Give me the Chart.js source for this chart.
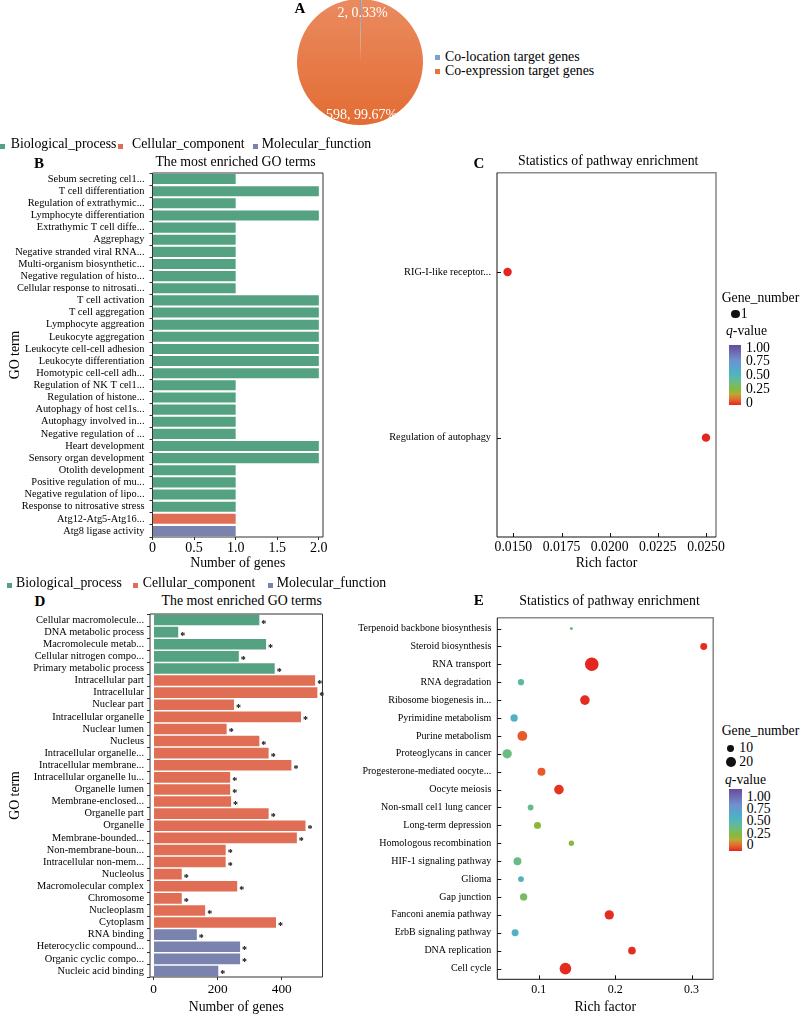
<!DOCTYPE html>
<html><head><meta charset="utf-8">
<script src="https://cdn.jsdelivr.net/npm/chart.js@4.4.1/dist/chart.umd.min.js"></script>
<style>
html,body{margin:0;padding:0;background:#fff}
body{width:800px;height:1016px;position:relative;overflow:hidden;font-family:'Liberation Serif','Times New Roman',serif}
.c{position:absolute}
.t{position:absolute;white-space:nowrap;line-height:1;color:#000;font-family:'Liberation Serif','Times New Roman',serif}
.sq{position:absolute}
</style></head><body>
<div class="c" style="left:297px;top:-1.5px;width:126px;height:126px"><canvas id="cA"></canvas></div>
<div class="c" style="left:0;top:170px;width:330px;height:406px"><canvas id="cB"></canvas></div>
<div class="c" style="left:380px;top:168px;width:360px;height:408px"><canvas id="cC"></canvas></div>
<div class="c" style="left:0;top:610px;width:330px;height:406px"><canvas id="cD"></canvas></div>
<div class="c" style="left:330px;top:611px;width:390px;height:405px"><canvas id="cE"></canvas></div>
<script>
// ================= DATA =================
const pieLabels = ['Co-location target genes', 'Co-expression target genes'];
const pieValues = [2, 598];

const goClasses = ['Biological_process', 'Cellular_component', 'Molecular_function'];

const bTerms = ['Sebum secreting cel1...','T cell differentiation','Regulation of extrathymic...','Lymphocyte differentiation','Extrathymic T cell diffe...','Aggrephagy','Negative stranded viral RNA...','Multi-organism biosynthetic...','Negative regulation of histo...','Cellular response to nitrosati...','T cell activation','T cell aggregation','Lymphocyte aggreation','Leukocyte aggregation','Leukocyte cell-cell adhesion','Leukocyte differentiation','Homotypic cell-cell adh...','Regulation of NK T cel1...','Regulation of histone...','Autophagy of host cel1s...','Autophagy involved in...','Negative regulation of ...','Heart development','Sensory organ development','Otolith development','Positive regulation of mu...','Negative regulation of lipo...','Response to nitrosative stress','Atg12-Atg5-Atg16...','Atg8 ligase activity'];
const bCounts = [1,2,1,2,1,1,1,1,1,1,2,2,2,2,2,2,2,1,1,1,1,1,2,2,1,1,1,1,1,1];
const bClass  = [0,0,0,0,0,0,0,0,0,0,0,0,0,0,0,0,0,0,0,0,0,0,0,0,0,0,0,0,1,2];
const bXTicks = [0, 0.5, 1, 1.5, 2];

const dTerms = ['Cellular macromolecule...','DNA metabolic process','Macromolecule metab...','Cellular nitrogen compo...','Primary metabolic process','Intracellular part','Intracellular','Nuclear part','Intracellular organelle','Nuclear lumen','Nucleus','Intracellular organelle...','Intracellular membrane...','Intracellular organelle lu...','Organelle lumen','Membrane-enclosed...','Organelle part','Organelle','Membrane-bounded...','Non-membrane-boun...','Intracellular non-mem...','Nucleolus','Macromolecular complex','Chromosome','Nucleoplasm','Cytoplasm','RNA binding','Heterocyclic compound...','Organic cyclic compo...','Nucleic acid binding'];
const dCounts = [330,77,351,266,378,504,511,251,460,228,330,359,430,239,239,242,359,474,447,225,225,88,261,88,161,382,135,270,270,202];
const dClass  = [0,0,0,0,0,1,1,1,1,1,1,1,1,1,1,1,1,1,1,1,1,1,1,1,1,1,2,2,2,2];
const dXTicks = [0, 200, 400];

const cPathways = ['RIG-I-like receptor...', 'Regulation of autophagy'];
const cRich  = [0.0147, 0.0250];
const cGenes = [1, 1];
const cQ     = [0.0, 0.0];
const cXTicks = [0.015, 0.0175, 0.02, 0.0225, 0.025];

const ePathways = ['Terpenoid backbone biosynthesis','Steroid biosynthesis','RNA transport','RNA degradation','Ribosome biogenesis in...','Pyrimidine metabolism','Purine metabolism','Proteoglycans in cancer','Progesterone-mediated oocyte...','Oocyte meiosis','Non-small cel1 lung cancer','Long-term depression','Homologous recombination','HIF-1 signaling pathway','Glioma','Gap junction','Fanconi anemia pathway','ErbB signaling pathway','DNA replication','Cell cycle'];
const eRich  = [0.1427,0.316,0.1694,0.0767,0.1604,0.0677,0.0785,0.0586,0.1035,0.1264,0.0893,0.0983,0.1427,0.0721,0.0767,0.0802,0.1923,0.0690,0.222,0.1349];
const eGenes = [2,10,38,8,19,11,20,18,13,19,7,10,6,13,7,11,18,10,12,28];
const eQ     = [0.36,0.01,0.0,0.44,0.01,0.53,0.07,0.38,0.07,0.02,0.40,0.25,0.27,0.38,0.53,0.32,0.01,0.53,0.01,0.01];
const eXTicks = [0.1, 0.2, 0.3];
const eSizeLegend = [10, 20];
const qLegendTicks = ['1.00', '0.75', '0.50', '0.25', '0'];

// ================= STYLE =================
const FONT = "'Liberation Serif','Times New Roman',serif";
Chart.defaults.font.family = FONT;
Chart.defaults.color = '#000';
Chart.defaults.animation = false;
const classColors = ['#55A283', '#E06E54', '#7A82AE'];
const qStops = [[0,[227,38,30]],[0.08,[232,96,44]],[0.18,[185,169,58]],[0.25,[138,185,53]],[0.35,[112,188,118]],[0.45,[91,184,166]],[0.55,[76,177,198]],[0.75,[112,144,208]],[1,[106,74,152]]];
function qColor(q){
  for(let i=1;i<qStops.length;i++){
    if(q<=qStops[i][0]){
      const [a,ca]=qStops[i-1],[b,cb]=qStops[i]; const t=(q-a)/(b-a);
      return 'rgb('+ca.map((v,k)=>Math.round(v+(cb[k]-v)*t)).join(',')+')';
    }
  }
  return 'rgb(106,74,152)';
}
const sizeC = n => 4.2*Math.sqrt(n);
const sizeE = n => 1.1*Math.sqrt(n);
function noPad(s){ s.paddingTop=0; s.paddingBottom=0; s.paddingLeft=0; s.paddingRight=0; }

// ================= HELPERS =================
function T(x,y,s,o={}){
  const d=document.createElement('div'); d.className='t';
  if(o.html) d.innerHTML=s; else d.textContent=s;
  d.style.left=x+'px'; d.style.top=y+'px';
  d.style.fontSize=(o.size||13.8)+'px';
  if(o.bold) d.style.fontWeight='bold';
  if(o.color) d.style.color=o.color;
  const tx=o.align==='center'?'-50%':o.align==='right'?'-100%':'0';
  d.style.transform='translate('+tx+',-50%)';
  document.body.appendChild(d);
}
function SQ(x,y,s,col,round){
  const d=document.createElement('div'); d.className='sq';
  d.style.left=(x)+'px'; d.style.top=(y-s/2)+'px';
  d.style.width=s+'px'; d.style.height=s+'px'; d.style.background=col;
  if(round){d.style.borderRadius='50%'; d.style.left=(x-s/2)+'px';}
  document.body.appendChild(d);
}
function colorbar(x,y,w,h){
  const d=document.createElement('div'); d.className='sq';
  d.style.left=x+'px'; d.style.top=y+'px'; d.style.width=w+'px'; d.style.height=h+'px';
  d.style.background='linear-gradient(to top,'+qStops.map(s=>'rgb('+s[1].join(',')+') '+(s[0]*100)+'%').join(',')+')';
  document.body.appendChild(d);
}

const framePlugin = {
  id:'frame',
  afterDraw(chart, args, o){
    const {ctx, chartArea:a} = chart;
    ctx.save();
    if(o.inward){
      ctx.strokeStyle='#111'; ctx.lineWidth=1;
      const xs=chart.scales.x, ys=chart.scales.y;
      xs.ticks.forEach(t=>{const p=Math.round(xs.getPixelForValue(t.value))+0.5; ctx.beginPath(); ctx.moveTo(p,a.bottom); ctx.lineTo(p,a.bottom-4); ctx.stroke();});
      ys.ticks.forEach(t=>{const p=Math.round(ys.getPixelForValue(t.value))+0.5; ctx.beginPath(); ctx.moveTo(a.left,p); ctx.lineTo(a.left+4,p); ctx.stroke();});
    }
    ctx.strokeStyle=o.outer; ctx.lineWidth=o.outerWidth;
    ctx.beginPath(); ctx.moveTo(a.left,a.top); ctx.lineTo(a.right,a.top); ctx.lineTo(a.right,a.bottom); ctx.stroke();
    ctx.strokeStyle=o.axis; ctx.lineWidth=o.axisWidth;
    ctx.beginPath(); ctx.moveTo(a.left,a.top); ctx.lineTo(a.left,a.bottom); ctx.lineTo(a.right,a.bottom); ctx.stroke();
    ctx.restore();
  }
};
const starPlugin = {
  id:'stars',
  afterDatasetsDraw(chart){
    const {ctx}=chart; const meta=chart.getDatasetMeta(0);
    ctx.save(); ctx.fillStyle='#000'; ctx.font="bold 10px "+FONT; ctx.textAlign='left'; ctx.textBaseline='alphabetic';
    meta.data.forEach(b=>ctx.fillText('*', b.x+2, b.y+6.5));
    ctx.restore();
  }
};

// ================= PANEL A (pie) =================
function pieGrad(chart){
  const a=chart.chartArea; if(!a) return '#E67A45';
  const g=chart.ctx.createLinearGradient(0,a.top,0,a.bottom);
  g.addColorStop(0,'#EA8B5F'); g.addColorStop(1,'#E36C33'); return g;
}
new Chart(document.getElementById('cA'),{
  type:'pie',
  data:{labels:pieLabels,datasets:[{data:pieValues,backgroundColor:c=>c.dataIndex===0?'#7EA1CC':pieGrad(c.chart),borderWidth:0,hoverOffset:0,offset:0}]},
  options:{responsive:true,maintainAspectRatio:false,events:[],layout:{padding:0},plugins:{legend:{display:false},tooltip:{enabled:false}}}
});
const pieTotal=pieValues.reduce((a,b)=>a+b,0);
const pieText=pieValues.map(v=>v+', '+(v/pieTotal*100).toFixed(2)+'%');
T(300,8.3,'A',{bold:true,size:15,align:'center'});
T(362.5,13,pieText[0],{color:'#fff',size:14,align:'center'});
T(361.5,114.5,pieText[1],{color:'#fff',size:14,align:'center'});
SQ(434.5,57.5,5,'#7EA1CC'); T(445,56.8,pieLabels[0]);
SQ(434.5,71.5,5,'#E4743D'); T(445,71,pieLabels[1]);

// ================= PANEL B / D (GO bars) =================
function goBar(id, terms, counts, cls, xmin, xmax, xticks, fmt, o){
  return new Chart(document.getElementById(id),{
    type:'bar',
    data:{labels:terms,datasets:[{data:counts,backgroundColor:cls.map(c=>classColors[c]),borderWidth:0,categoryPercentage:o.cat,barPercentage:1}]},
    options:{indexAxis:'y',responsive:true,maintainAspectRatio:false,events:[],
      layout:{padding:{top:o.padTop,right:o.padRight,left:0,bottom:0}},
      plugins:{legend:{display:false},tooltip:{enabled:false},frame:{outer:'#333',outerWidth:1,axis:'#333',axisWidth:1}},
      scales:{
        x:{type:'linear',min:xmin,max:xmax,
          afterBuildTicks:s=>{s.ticks=xticks.map(v=>({value:v}));},
          ticks:{font:{size:o.xFont,lineHeight:1},padding:o.xPad,callback:fmt,autoSkip:false,maxRotation:0},
          grid:{drawOnChartArea:false,drawTicks:true,tickLength:3,color:'#333'},border:{display:false},
          title:{display:true,text:'Number of genes',font:{size:13.8},padding:{top:0,bottom:o.titlePadB}},
          afterFit:s=>{s.height=o.xH; noPad(s);}},
        y:{type:'category',
          ticks:{font:{size:10.4,lineHeight:1},padding:o.yPad,autoSkip:false},
          grid:{drawOnChartArea:false,drawTicks:true,tickLength:3,color:'#333'},border:{display:false},
          title:{display:true,text:'GO term',font:{size:13.8},padding:{top:7,bottom:0}},
          afterFit:s=>{s.width=o.yW; noPad(s);}}
      }},
    plugins:[framePlugin].concat(o.stars?[starPlugin]:[])
  });
}
goBar('cB',bTerms,bCounts,bClass,0,2.05,bXTicks,v=>v===0?'0':v.toFixed(1),
  {cat:0.83,padTop:3,padRight:7,xFont:14,xPad:1,xH:39,yW:152.5,yPad:5,titlePadB:4});
T(39,163,'B',{bold:true,size:15,align:'center'});
T(235.5,161.7,'The most enriched GO terms',{align:'center'});
SQ(0,146.5,5,classColors[0]); T(10.7,144,goClasses[0]);
SQ(117.7,146.5,5,classColors[1]); T(132,144,goClasses[1]);
SQ(253,146.5,5,classColors[2]); T(261.7,144,goClasses[2]);

goBar('cD',dTerms,dCounts,dClass,-11,527,dXTicks,v=>String(v),
  {cat:0.88,padTop:4,padRight:7.5,xFont:13.3,xPad:3,xH:39,yW:150,yPad:3,titlePadB:0,stars:true});
T(40,600.7,'D',{bold:true,size:15,align:'center'});
T(241.7,600.8,'The most enriched GO terms',{align:'center'});
SQ(6.7,585.8,5,classColors[0]); T(16,583,goClasses[0]);
SQ(132.7,585.8,5,classColors[1]); T(142.7,583,goClasses[1]);
SQ(268.3,585.8,5,classColors[2]); T(276.7,583,goClasses[2]);

// ================= PANEL C / E (dot plots) =================
function dotPlot(id, names, rich, genes, q, sizeFn, xmin, xmax, xticks, fmt, o){
  return new Chart(document.getElementById(id),{
    type:'scatter',
    data:{datasets:[{data:names.map((n,i)=>({x:rich[i],y:i+1})),pointRadius:genes.map(sizeFn),pointHoverRadius:genes.map(sizeFn),
      pointBackgroundColor:q.map(qColor),pointBorderWidth:0,clip:false}]},
    options:{responsive:true,maintainAspectRatio:false,events:[],
      layout:{padding:{top:o.padTop,right:o.padRight,left:0,bottom:0}},
      plugins:{legend:{display:false},tooltip:{enabled:false},frame:{inward:true,outer:'#8c8c8c',outerWidth:1.6,axis:'#111',axisWidth:1}},
      scales:{
        x:{type:'linear',min:xmin,max:xmax,
          afterBuildTicks:s=>{s.ticks=xticks.map(v=>({value:v}));},
          ticks:{font:{size:o.xFont,lineHeight:1},padding:o.xPad,callback:fmt,autoSkip:false,maxRotation:0},
          grid:{display:false,drawTicks:false},border:{display:false},
          title:{display:true,text:'Rich factor',font:{size:13.8},padding:{top:0,bottom:o.titlePadB}},
          afterFit:s=>{s.height=o.xH; noPad(s);}},
        y:{type:'linear',reverse:true,min:0.4,max:names.length+0.6,
          afterBuildTicks:s=>{s.ticks=names.map((n,i)=>({value:i+1}));},
          ticks:{font:{size:o.yFont,lineHeight:1},padding:6,autoSkip:false,callback:v=>names[Math.round(v)-1]},
          grid:{display:false,drawTicks:false},border:{display:false},
          afterFit:s=>{s.width=o.yW; noPad(s);}}
      }},
    plugins:[framePlugin]
  });
}
dotPlot('cC',cPathways,cRich,cGenes,cQ,sizeC,0.01415,0.02552,cXTicks,v=>v.toFixed(4),
  {padTop:4.7,padRight:24,xFont:13.7,xPad:4,xH:39,yW:117,yFont:10.3,titlePadB:4});
T(479,162.5,'C',{bold:true,size:15,align:'center'});
T(608.2,161.3,'Statistics of pathway enrichment',{align:'center'});
T(721.7,298,'Gene_number',{size:13.7});
SQ(735.5,314.3,sizeC(cGenes[0])*2,'#111',true); T(740.7,314.3,String(cGenes[0]),{size:13.7});
T(726,330.5,'<i>q</i>-value',{html:true,size:13.7});
colorbar(728.5,344.5,12.5,60.5);
[347.5,361.3,375.2,389.1,403].forEach((y,i)=>T(746,y,qLegendTicks[i],{size:13.7}));

dotPlot('cE',ePathways,eRich,eGenes,eQ,sizeE,0.0457,0.3284,eXTicks,v=>v.toFixed(1),
  {padTop:4,padRight:4,xFont:12,xPad:4.7,xH:36.7,yW:167.3,yFont:10,titlePadB:0});
T(478.7,600.3,'E',{bold:true,size:15,align:'center'});
T(609.5,600.5,'Statistics of pathway enrichment',{align:'center'});
T(721.7,730.5,'Gene_number',{size:13.7});
SQ(730.8,748.2,sizeE(eSizeLegend[0])*2,'#111',true); T(739.3,748.2,String(eSizeLegend[0]),{size:13.7});
SQ(730.8,761.8,sizeE(eSizeLegend[1])*2,'#111',true); T(739.3,761.8,String(eSizeLegend[1]),{size:13.7});
T(725,780,'<i>q</i>-value',{html:true,size:13.7});
colorbar(729,789.3,12.5,61.4);
[797.2,808.8,821.2,833.8,845].forEach((y,i)=>T(746.7,y,qLegendTicks[i],{size:13.7}));
</script>
</body></html>
